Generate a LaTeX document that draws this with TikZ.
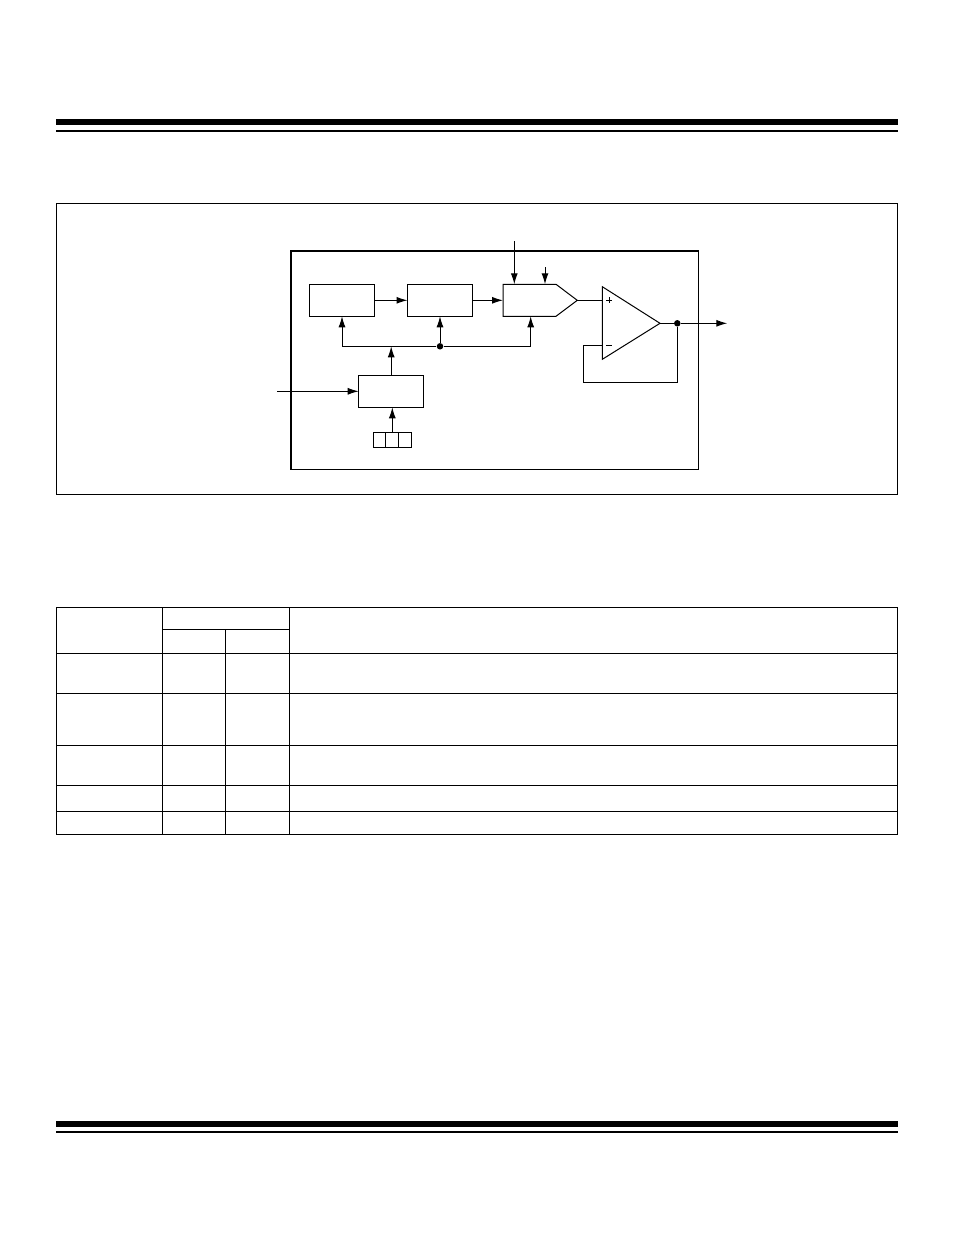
\documentclass[tikz,border=0pt]{standalone}
\usepackage{tikz}
\usetikzlibrary{positioning,arrows.meta}

\begin{document}
\begin{tikzpicture}[x=1pt, y=-1pt, line width=1pt]
	\tikzstyle{block} = [rectangle, draw, minimum width=65pt, minimum height=32pt, inner sep=0pt, outer sep=0pt]
	\tikzstyle{cell} = [rectangle, draw, minimum width=12.7pt, minimum height=15pt, inner sep=0pt, outer sep=0pt]
	\tikzstyle{junction} = [circle, fill=black, minimum size=6.5pt, inner sep=0pt]
	\tikzstyle{sig} = [-{Latex[length=11pt,width=7pt]}]
	\useasboundingbox (0,0) rectangle (954,1235);
	% page rules
	\fill (56,119) rectangle (898,125);
	\fill (56,130) rectangle (898,132);
	\fill (56,1121) rectangle (898,1127);
	\fill (56,1131) rectangle (898,1133);
	% frame of the figure
	\draw (56.5,203.5) rectangle (897.5,494.5);
	\draw (291,251) rectangle (698.3,469.3);
	\draw[line width=2pt, line cap=rect] (291,469) -- (291,251) -- (698,251);
	% blocks
	\node[block] (latch) at (342,300.3) {};
	\node[block, right=33pt of latch] (reg) {};
	\node[block] (ctrl) at (391.2,391.3) {};
	\node[cell, below=25pt of ctrl, xshift=1.1pt] (bit2) {};
	\node[cell, left=0pt of bit2] (bit1) {};
	\node[cell, right=0pt of bit2] (bit3) {};
	% converter
	\coordinate (dacin) at (503,300.3);
	\coordinate (dactop) at (514.3,284.3);
	\coordinate (dacref) at (545,284.3);
	\coordinate (dacbot) at (530.7,316.3);
	\coordinate (dacout) at (577.3,300.3);
	\draw[line join=miter] (503,284.3) -- (556,284.3) -- (dacout) -- (556,316.3) -- (503,316.3) -- cycle;
	% amplifier
	\coordinate (ampplus) at (602.3,300.3);
	\coordinate (ampminus) at (602.3,345.3);
	\coordinate (ampout) at (660,323.3);
	\draw (602.3,286.7) -- (ampout) -- (602.3,359.3) -- cycle;
	\draw (606,300.3) -- (612,300.3) (609,297.3) -- (609,303.3);
	\draw (606,345.3) -- (612,345.3);
	% free ends
	\coordinate (vin) at (277.3,391.3);
	\coordinate (refin) at (514.3,241);
	\coordinate (ldac) at (545,267.3);
	\coordinate (vout) at (727.3,323.3);
	\coordinate (fbturn) at (583.3,382);
	\node[junction] (busdot) at (reg.south |- 0,346.3) {};
	\node[junction] (outdot) at (677.3,323.3) {};
	% connectors
	\draw[sig] (latch) -- (reg);
	\draw[sig] (reg) -- (dacin);
	\draw[sig] (refin) -- (dactop);
	\draw[sig] (ldac) -- (dacref);
	\draw[sig] (vin) -- (ctrl);
	\draw[sig] (bit2) -- (ctrl.south -| bit2);
	\draw[sig] (ctrl.north) -- (ctrl.north |- busdot);
	\draw[sig] (busdot) -- (reg.south);
	\draw[sig] (busdot) -- (busdot -| latch.south) -- (latch.south);
	\draw[sig] (busdot) -- (busdot -| dacbot) -- (dacbot);
	\draw (dacout) -- (ampplus);
	\draw (ampout) -- (outdot);
	\draw[sig] (outdot) -- (vout);
	\draw (outdot) -- (outdot |- fbturn) -- (fbturn) -- (fbturn |- ampminus) -- (ampminus);
	% table
	\draw (56.5,607.3) rectangle (897.5,834.3);
	\foreach \y in {653.3,693.3,745.3,785.3,811.3}
	{
		\draw (56.5,\y) -- (897.5,\y);
	}
	\draw (162.3,629.3) -- (289.3,629.3);
	\draw (162.3,607.3) -- (162.3,834.3);
	\draw (225.3,629.3) -- (225.3,834.3);
	\draw (289.3,607.3) -- (289.3,834.3);
\end{tikzpicture}
\end{document}
